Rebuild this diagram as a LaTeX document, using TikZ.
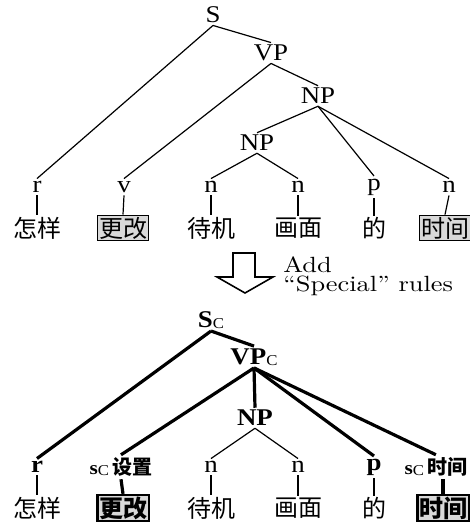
\documentclass[tikz,border=0pt]{standalone}
\usepackage{fontspec}
\setmainfont{Latin Modern Roman}
\newfontfamily\timesfont[FakeStretch=1.12]{Liberation Serif}
\newfontfamily\notefont[FakeStretch=1.2,Ligatures=TeX]{Latin Modern Roman}
\newfontfamily\cjk{Noto Sans CJK SC}
\usetikzlibrary{positioning}
\tikzset{
    % Phrase label (S, VP, NP)
    phrase/.style={font=\timesfont\fontsize{12}{13}\selectfont,inner sep=1pt},
    boldphrase/.style={font=\timesfont\bfseries\fontsize{12}{13}\selectfont,inner sep=1pt},
    % Part-of-speech label
    postag/.style={font=\timesfont\fontsize{12}{13}\selectfont,inner sep=1.2pt},
    boldtag/.style={postag,font=\timesfont\bfseries\fontsize{12}{13}\selectfont},
    % Chinese word
    word/.style={font=\cjk\fontsize{12}{13}\selectfont,inner sep=0.6pt},
    % Word changed by a special rule
    marked/.style={word,draw,fill=gray!30,thick,inner sep=0.8pt},
    boldmarked/.style={marked,line width=1.1pt,font=\cjk\bfseries\fontsize{12}{13}\selectfont},
    % Note beside the arrow
    note/.style={anchor=base west,inner sep=0pt,font=\notefont\fontsize{11}{11}\selectfont},
    % Tree branches
    branch/.style={line width=0.6pt},
    boldbranch/.style={line width=1.6pt}
}
\newcommand{\subC}{\raisebox{-0.6pt}{\timesfont\mdseries\fontsize{7.5}{8}\selectfont C}}

\begin{document}
\begin{tikzpicture}[x=0.5pt,y=-0.5pt]
    \useasboundingbox (0,0) rectangle (470,524);

    % Original parse tree
    \node[phrase] (s) at (213,15) {S};
    \node[phrase] (vp) at (271,53) {VP};
    \node[phrase] (np) at (318,96) {NP};
    \node[phrase] (npa) at (257,143) {NP};

    \node[postag] (r) at (37,187) {r};
    \node[postag] (v) at (124,187) {v};
    \node[postag] (na) at (211,187) {n};
    \node[postag] (nb) at (298,187) {n};
    \node[postag] (p) at (374,187) {p};
    \node[postag] (nc) at (449,187) {n};

    \node[word] (w1) at (37,228) {怎样};
    \node[marked] (w2) at (123,228) {更改};
    \node[word] (w3) at (211,228) {待机};
    \node[word] (w4) at (298,228) {画面};
    \node[word] (w5) at (374,228) {的};
    \node[marked] (w6) at (445,228) {时间};

    \draw[branch] (s.south) -- (vp.north);
    \draw[branch] (s.south) -- (r.north);
    \draw[branch] (vp.south) -- (v.north);
    \draw[branch] (vp.south) -- (np.north);
    \draw[branch] (np.south) -- (npa.north);
    \draw[branch] (np.south) -- (p.north);
    \draw[branch] (np.south) -- (nc.north);
    \draw[branch] (npa.south) -- (na.north);
    \draw[branch] (npa.south) -- (nb.north);

    % Ticks down to the words
    \draw[branch] (r.south) -- (w1.north);
    \draw[branch] (v.south) -- (w2.north);
    \draw[branch] (na.south) -- (w3.north);
    \draw[branch] (nb.south) -- (w4.north);
    \draw[branch] (p.south) -- (w5.north);
    \draw[branch] (nc.south) -- (w6.north);

    % Open arrow between the two trees
    \draw[thick,fill=white] (233,253) -- (255,253) -- (255,277) -- (273,277)
        -- (245,293) -- (217,277) -- (233,277) -- cycle;
    \node[note] (add) at (283,272) {Add};
    \node[note] (rules) at (283,291) {``Special'' rules};

    % Tree with special rules
    \node[boldphrase] (sc) at (211,320) {S\subC};
    \node[boldphrase] (vpc) at (254,357) {VP\subC};
    \node[boldphrase] (npb) at (255,418) {NP};

    \node[boldtag] (r2) at (37,467) {r};
    \node[boldtag] (sa) at (121,467)
        {\fontsize{9.5}{10}\selectfont s\subC\,{\cjk\bfseries\fontsize{10}{10}\selectfont 设置}};
    \node[postag] (na2) at (211,467) {n};
    \node[postag] (nb2) at (298,467) {n};
    \node[boldtag] (p2) at (374,467) {p};
    \node[boldtag,anchor=east] (sb) at (470,467)
        {\fontsize{9.5}{10}\selectfont s\subC\,{\cjk\bfseries\fontsize{10}{10}\selectfont 时间}};

    \node[word] (v1) at (37,508) {怎样};
    \node[boldmarked] (v2) at (123,508) {更改};
    \node[word] (v3) at (211,508) {待机};
    \node[word] (v4) at (298,508) {画面};
    \node[word] (v5) at (374,508) {的};
    \node[boldmarked] (v6) at (443,508) {时间};

    \draw[boldbranch] (sc.south) -- (vpc.north);
    \draw[boldbranch] (sc.south) -- (r2.north);
    \draw[boldbranch] (vpc.south) -- (sa.north);
    \draw[boldbranch] (vpc.south) -- (npb.north);
    \draw[boldbranch] (vpc.south) -- (p2.north);
    \draw[boldbranch] (vpc.south) -- (sb.north);
    \draw[branch] (npb.south) -- (na2.north);
    \draw[branch] (npb.south) -- (nb2.north);

    \draw[branch] (r2.south) -- (v1.north);
    \draw[boldbranch] (sa.south) -- (v2.north);
    \draw[branch] (na2.south) -- (v3.north);
    \draw[branch] (nb2.south) -- (v4.north);
    \draw[branch] (p2.south) -- (v5.north);
    \draw[boldbranch] (v6.north |- sb.south) -- (v6.north);
\end{tikzpicture}
\end{document}
